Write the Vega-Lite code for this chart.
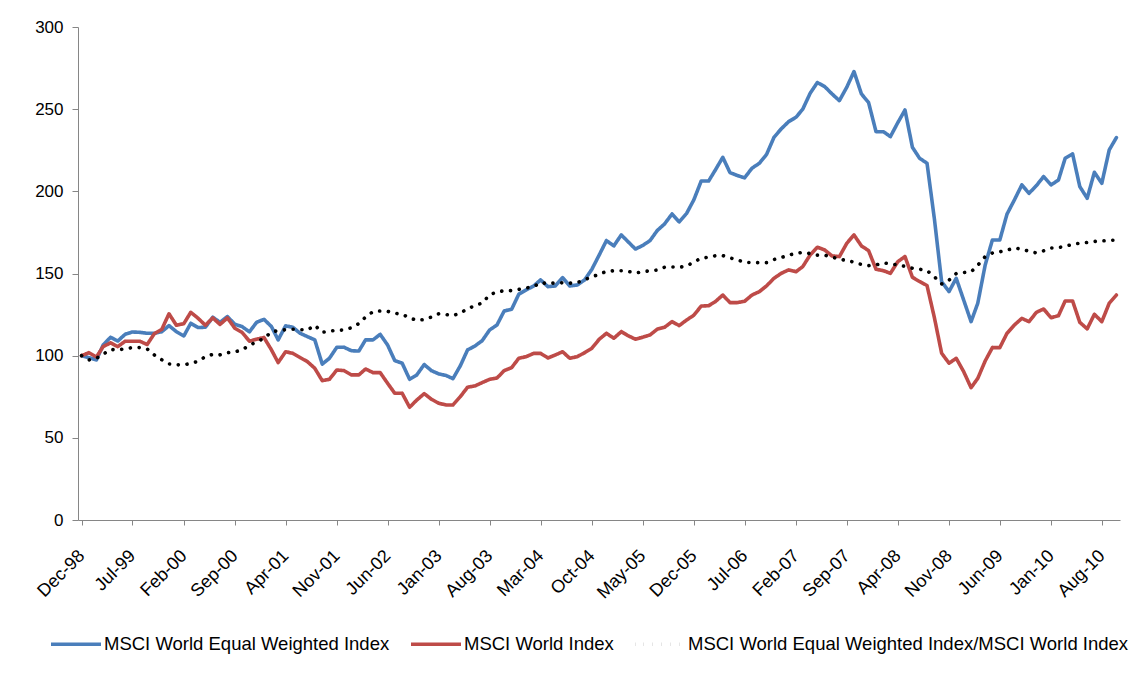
{
  "$schema": "https://vega.github.io/schema/vega-lite/v6.json",
  "width": 1042,
  "height": 493,
  "autosize": {"type": "none"},
  "padding": {"left": 78, "top": 27, "right": 28, "bottom": 172},
  "background": "white",
  "config": {
    "view": {"stroke": null},
    "font": "Liberation Sans",
    "axis": {"domainColor": "#868686", "tickColor": "#868686", "labelColor": "black", "labelFont": "Liberation Sans", "grid": false}
  },
  "data": {"values": [
    {"d":"1998-12-01","ew":100,"w":100,"r":100},
    {"d":"1999-01-01","ew":98.8,"w":101.8,"r":97.4},
    {"d":"1999-02-01","ew":97.4,"w":99.2,"r":98.4},
    {"d":"1999-03-01","ew":106.5,"w":105.5,"r":100.9},
    {"d":"1999-04-01","ew":111.2,"w":107.8,"r":103.8},
    {"d":"1999-05-01","ew":108.9,"w":105.5,"r":103.5},
    {"d":"1999-06-01","ew":113.0,"w":108.8,"r":104.2},
    {"d":"1999-07-01","ew":114.4,"w":108.8,"r":104.9},
    {"d":"1999-08-01","ew":114.2,"w":108.8,"r":104.9},
    {"d":"1999-09-01","ew":113.6,"w":106.8,"r":104.1},
    {"d":"1999-10-01","ew":113.6,"w":113.4,"r":100.4},
    {"d":"1999-11-01","ew":114.6,"w":116.0,"r":97.5},
    {"d":"1999-12-01","ew":118.3,"w":125.5,"r":95.0},
    {"d":"2000-01-01","ew":114.6,"w":118.5,"r":94.4},
    {"d":"2000-02-01","ew":112.0,"w":119.5,"r":94.4},
    {"d":"2000-03-01","ew":119.7,"w":126.4,"r":95.3},
    {"d":"2000-04-01","ew":117.1,"w":122.7,"r":96.6},
    {"d":"2000-05-01","ew":117.3,"w":118.5,"r":99.4},
    {"d":"2000-06-01","ew":123.4,"w":123.0,"r":100.8},
    {"d":"2000-07-01","ew":120.3,"w":119.0,"r":100.5},
    {"d":"2000-08-01","ew":123.8,"w":123.0,"r":101.8},
    {"d":"2000-09-01","ew":119.1,"w":116.7,"r":102.3},
    {"d":"2000-10-01","ew":117.7,"w":114.2,"r":103.5},
    {"d":"2000-11-01","ew":114.5,"w":108.8,"r":106.3},
    {"d":"2000-12-01","ew":120.3,"w":110.0,"r":108.5},
    {"d":"2001-01-01","ew":122.1,"w":111.0,"r":110.5},
    {"d":"2001-02-01","ew":117.7,"w":103.5,"r":114.5},
    {"d":"2001-03-01","ew":109.6,"w":95.8,"r":115.2},
    {"d":"2001-04-01","ew":118.1,"w":102.4,"r":115.8},
    {"d":"2001-05-01","ew":117.3,"w":101.4,"r":116.1},
    {"d":"2001-06-01","ew":113.6,"w":98.8,"r":115.8},
    {"d":"2001-07-01","ew":111.6,"w":96.4,"r":115.6},
    {"d":"2001-08-01","ew":109.6,"w":92.3,"r":118.5},
    {"d":"2001-09-01","ew":94.9,"w":84.8,"r":114.2},
    {"d":"2001-10-01","ew":98.4,"w":85.6,"r":114.9},
    {"d":"2001-11-01","ew":105.1,"w":91.3,"r":115.5},
    {"d":"2001-12-01","ew":105.1,"w":90.9,"r":115.6},
    {"d":"2002-01-01","ew":103.0,"w":88.3,"r":117.0},
    {"d":"2002-02-01","ew":102.8,"w":88.3,"r":119.5},
    {"d":"2002-03-01","ew":109.6,"w":91.9,"r":123.5},
    {"d":"2002-04-01","ew":109.6,"w":89.7,"r":126.8},
    {"d":"2002-05-01","ew":113.0,"w":89.7,"r":127.2},
    {"d":"2002-06-01","ew":106.5,"w":83.2,"r":127.0},
    {"d":"2002-07-01","ew":97.0,"w":77.1,"r":125.8},
    {"d":"2002-08-01","ew":95.4,"w":77.1,"r":125.2},
    {"d":"2002-09-01","ew":85.6,"w":68.6,"r":123.0},
    {"d":"2002-10-01","ew":88.3,"w":73.0,"r":121.5},
    {"d":"2002-11-01","ew":94.6,"w":76.9,"r":122.0},
    {"d":"2002-12-01","ew":90.9,"w":73.5,"r":123.5},
    {"d":"2003-01-01","ew":88.9,"w":71.0,"r":125.5},
    {"d":"2003-02-01","ew":87.9,"w":70.0,"r":125.0},
    {"d":"2003-03-01","ew":86.0,"w":70.0,"r":124.3},
    {"d":"2003-04-01","ew":93.9,"w":75.1,"r":126.0},
    {"d":"2003-05-01","ew":103.5,"w":80.8,"r":128.5},
    {"d":"2003-06-01","ew":105.9,"w":81.6,"r":130.5},
    {"d":"2003-07-01","ew":109.1,"w":83.6,"r":132.0},
    {"d":"2003-08-01","ew":115.6,"w":85.6,"r":137.0},
    {"d":"2003-09-01","ew":118.7,"w":86.4,"r":138.8},
    {"d":"2003-10-01","ew":127.2,"w":90.9,"r":139.5},
    {"d":"2003-11-01","ew":128.2,"w":92.7,"r":139.6},
    {"d":"2003-12-01","ew":137.4,"w":98.4,"r":140.3},
    {"d":"2004-01-01","ew":140.0,"w":99.4,"r":141.2},
    {"d":"2004-02-01","ew":142.4,"w":101.4,"r":142.0},
    {"d":"2004-03-01","ew":146.1,"w":101.4,"r":144.5},
    {"d":"2004-04-01","ew":142.0,"w":98.6,"r":143.8},
    {"d":"2004-05-01","ew":142.4,"w":100.4,"r":144.3},
    {"d":"2004-06-01","ew":147.5,"w":102.4,"r":144.3},
    {"d":"2004-07-01","ew":142.4,"w":98.4,"r":144.1},
    {"d":"2004-08-01","ew":143.0,"w":99.4,"r":144.4},
    {"d":"2004-09-01","ew":146.1,"w":101.8,"r":146.2},
    {"d":"2004-10-01","ew":152.5,"w":104.5,"r":148.0},
    {"d":"2004-11-01","ew":161.3,"w":110.0,"r":149.5},
    {"d":"2004-12-01","ew":170.0,"w":113.6,"r":151.3},
    {"d":"2005-01-01","ew":166.8,"w":110.6,"r":151.7},
    {"d":"2005-02-01","ew":173.5,"w":114.6,"r":151.7},
    {"d":"2005-03-01","ew":169.4,"w":112.2,"r":151.3},
    {"d":"2005-04-01","ew":164.9,"w":110.0,"r":150.3},
    {"d":"2005-05-01","ew":167.0,"w":111.2,"r":151.0},
    {"d":"2005-06-01","ew":170.0,"w":112.6,"r":151.7},
    {"d":"2005-07-01","ew":176.1,"w":116.1,"r":152.1},
    {"d":"2005-08-01","ew":180.2,"w":117.3,"r":153.8},
    {"d":"2005-09-01","ew":186.2,"w":120.7,"r":154.0},
    {"d":"2005-10-01","ew":181.4,"w":118.3,"r":153.8},
    {"d":"2005-11-01","ew":186.6,"w":121.7,"r":154.5},
    {"d":"2005-12-01","ew":194.8,"w":124.6,"r":157.0},
    {"d":"2006-01-01","ew":206.3,"w":130.2,"r":159.3},
    {"d":"2006-02-01","ew":206.3,"w":130.4,"r":159.9},
    {"d":"2006-03-01","ew":213.0,"w":132.9,"r":160.8},
    {"d":"2006-04-01","ew":220.7,"w":136.9,"r":160.9},
    {"d":"2006-05-01","ew":211.4,"w":132.3,"r":159.5},
    {"d":"2006-06-01","ew":209.6,"w":132.3,"r":158.3},
    {"d":"2006-07-01","ew":208.2,"w":133.1,"r":156.8},
    {"d":"2006-08-01","ew":214.1,"w":136.9,"r":156.6},
    {"d":"2006-09-01","ew":217.1,"w":139.0,"r":156.6},
    {"d":"2006-10-01","ew":222.5,"w":142.5,"r":156.6},
    {"d":"2006-11-01","ew":232.9,"w":147.1,"r":158.5},
    {"d":"2006-12-01","ew":238.0,"w":150.1,"r":159.7},
    {"d":"2007-01-01","ew":242.4,"w":152.2,"r":161.2},
    {"d":"2007-02-01","ew":245.1,"w":151.1,"r":162.2},
    {"d":"2007-03-01","ew":250.0,"w":154.2,"r":162.9},
    {"d":"2007-04-01","ew":259.7,"w":161.3,"r":162.1},
    {"d":"2007-05-01","ew":266.2,"w":166.0,"r":161.2},
    {"d":"2007-06-01","ew":263.7,"w":164.3,"r":161.1},
    {"d":"2007-07-01","ew":259.3,"w":160.7,"r":160.0},
    {"d":"2007-08-01","ew":255.2,"w":160.3,"r":158.7},
    {"d":"2007-09-01","ew":263.4,"w":168.4,"r":157.9},
    {"d":"2007-10-01","ew":272.9,"w":173.5,"r":156.9},
    {"d":"2007-11-01","ew":259.3,"w":166.8,"r":155.5},
    {"d":"2007-12-01","ew":254.0,"w":163.9,"r":154.8},
    {"d":"2008-01-01","ew":236.3,"w":152.6,"r":155.2},
    {"d":"2008-02-01","ew":236.3,"w":151.7,"r":156.5},
    {"d":"2008-03-01","ew":233.3,"w":150.1,"r":155.8},
    {"d":"2008-04-01","ew":241.8,"w":157.2,"r":155.3},
    {"d":"2008-05-01","ew":249.5,"w":160.3,"r":154.3},
    {"d":"2008-06-01","ew":226.8,"w":147.7,"r":153.2},
    {"d":"2008-07-01","ew":220.1,"w":145.1,"r":152.6},
    {"d":"2008-08-01","ew":217.1,"w":142.7,"r":151.8},
    {"d":"2008-09-01","ew":183.0,"w":123.0,"r":148.0},
    {"d":"2008-10-01","ew":145.0,"w":101.5,"r":143.6},
    {"d":"2008-11-01","ew":139.0,"w":95.4,"r":146.0},
    {"d":"2008-12-01","ew":147.1,"w":98.4,"r":150.0},
    {"d":"2009-01-01","ew":133.9,"w":90.3,"r":150.6},
    {"d":"2009-02-01","ew":120.7,"w":80.5,"r":151.0},
    {"d":"2009-03-01","ew":131.9,"w":86.2,"r":155.0},
    {"d":"2009-04-01","ew":155.2,"w":96.8,"r":160.3},
    {"d":"2009-05-01","ew":170.4,"w":104.9,"r":162.5},
    {"d":"2009-06-01","ew":170.4,"w":104.9,"r":163.2},
    {"d":"2009-07-01","ew":186.1,"w":113.6,"r":164.2},
    {"d":"2009-08-01","ew":194.8,"w":118.7,"r":165.5},
    {"d":"2009-09-01","ew":203.9,"w":122.7,"r":164.8},
    {"d":"2009-10-01","ew":198.8,"w":120.7,"r":163.5},
    {"d":"2009-11-01","ew":203.5,"w":126.4,"r":162.5},
    {"d":"2009-12-01","ew":209.0,"w":128.4,"r":163.8},
    {"d":"2010-01-01","ew":203.9,"w":123.1,"r":165.5},
    {"d":"2010-02-01","ew":206.9,"w":124.3,"r":165.8},
    {"d":"2010-03-01","ew":220.1,"w":133.3,"r":166.5},
    {"d":"2010-04-01","ew":222.8,"w":133.3,"r":167.8},
    {"d":"2010-05-01","ew":202.9,"w":120.3,"r":168.4},
    {"d":"2010-06-01","ew":195.8,"w":116.3,"r":168.9},
    {"d":"2010-07-01","ew":211.6,"w":125.2,"r":169.5},
    {"d":"2010-08-01","ew":204.9,"w":120.7,"r":169.8},
    {"d":"2010-09-01","ew":225.2,"w":131.9,"r":170.1},
    {"d":"2010-10-01","ew":232.7,"w":136.9,"r":170.4}
  ]},
  "transform": [{"fold": ["ew", "w", "r"], "as": ["series", "value"]}],
  "mark": {"type": "line", "strokeCap": "round", "strokeJoin": "round"},
  "encoding": {
    "x": {
      "field": "d", "type": "temporal",
      "scale": {"type": "utc", "domain": [{"year": 1998, "month": 11, "date": 16, "utc": true}, {"year": 2010, "month": 10, "date": 16, "utc": true}]},
      "axis": {
        "title": null,
        "values": [
          {"year": 1998, "month": 12, "date": 1, "utc": true},
          {"year": 1999, "month": 7, "date": 1, "utc": true},
          {"year": 2000, "month": 2, "date": 1, "utc": true},
          {"year": 2000, "month": 9, "date": 1, "utc": true},
          {"year": 2001, "month": 4, "date": 1, "utc": true},
          {"year": 2001, "month": 11, "date": 1, "utc": true},
          {"year": 2002, "month": 6, "date": 1, "utc": true},
          {"year": 2003, "month": 1, "date": 1, "utc": true},
          {"year": 2003, "month": 8, "date": 1, "utc": true},
          {"year": 2004, "month": 3, "date": 1, "utc": true},
          {"year": 2004, "month": 10, "date": 1, "utc": true},
          {"year": 2005, "month": 5, "date": 1, "utc": true},
          {"year": 2005, "month": 12, "date": 1, "utc": true},
          {"year": 2006, "month": 7, "date": 1, "utc": true},
          {"year": 2007, "month": 2, "date": 1, "utc": true},
          {"year": 2007, "month": 9, "date": 1, "utc": true},
          {"year": 2008, "month": 4, "date": 1, "utc": true},
          {"year": 2008, "month": 11, "date": 1, "utc": true},
          {"year": 2009, "month": 6, "date": 1, "utc": true},
          {"year": 2010, "month": 1, "date": 1, "utc": true},
          {"year": 2010, "month": 8, "date": 1, "utc": true}
        ],
        "labelExpr": "utcFormat(datum.value, '%b-%y')",
        "labelAngle": -45, "labelAlign": "right", "labelBaseline": "middle",
        "labelFontSize": 18, "labelPadding": 28, "tickSize": 5,
        "labelOverlap": false, "labelBound": false, "labelFlush": false
      }
    },
    "y": {
      "field": "value", "type": "quantitative",
      "scale": {"domain": [0, 300], "nice": false, "zero": true},
      "axis": {"title": null, "values": [0, 50, 100, 150, 200, 250, 300], "labelFontSize": 17, "tickSize": 6, "labelPadding": 9}
    },
    "color": {
      "field": "series", "type": "nominal",
      "scale": {"domain": ["ew", "w", "r"], "range": ["#4A7EBB", "#BE4B48", "#000000"]},
      "legend": {
        "title": null, "orient": "none", "legendX": -29, "legendY": 590, "direction": "horizontal",
        "symbolType": "stroke", "symbolSize": 2500, "symbolStrokeWidth": 4,
        "labelFontSize": 18.5, "labelFont": "Liberation Sans", "labelColor": "black", "labelLimit": 700,
        "columnPadding": 13, "labelOffset": 1,
        "labelExpr": "datum.label == 'ew' ? 'MSCI World Equal Weighted Index' : datum.label == 'w' ? 'MSCI World Index' : 'MSCI World Equal Weighted Index/MSCI World Index'",
        "encoding": {"symbols": {"update": {"strokeCap": {"value": "round"}}}}
      }
    },
    "strokeDash": {
      "field": "series", "type": "nominal",
      "scale": {"domain": ["ew", "w", "r"], "range": [[1, 0], [1, 0], [0.1, 8.7]]},
      "legend": {
        "title": null, "orient": "none", "legendX": -29, "legendY": 590, "direction": "horizontal",
        "symbolType": "stroke", "symbolSize": 2500, "symbolStrokeWidth": 4,
        "labelFontSize": 18.5, "labelFont": "Liberation Sans", "labelColor": "black", "labelLimit": 700,
        "columnPadding": 13, "labelOffset": 1,
        "labelExpr": "datum.label == 'ew' ? 'MSCI World Equal Weighted Index' : datum.label == 'w' ? 'MSCI World Index' : 'MSCI World Equal Weighted Index/MSCI World Index'",
        "encoding": {"symbols": {"update": {"strokeCap": {"value": "round"}}}}
      }
    },
    "strokeWidth": {
      "field": "series", "type": "nominal",
      "scale": {"domain": ["ew", "w", "r"], "range": [3.6, 3.6, 4.5]},
      "legend": null
    }
  }
}
